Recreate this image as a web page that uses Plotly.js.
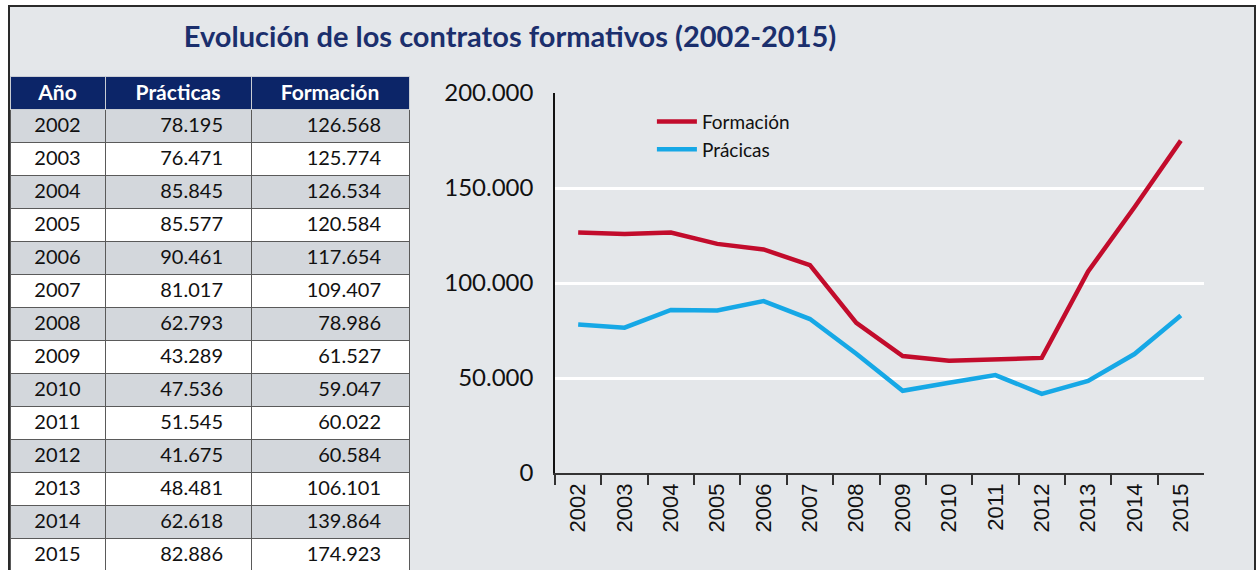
<!DOCTYPE html>
<html>
<head>
<meta charset="utf-8">
<script src="https://cdn.plot.ly/plotly-3.0.1.min.js"></script>
<style>
  body { margin: 0; background: #fff; }
  #wrap { position: absolute; left: 8px; top: 5px; width: 1244px; height: 600px;
          border: 2px solid #2a2a2a; background: #e4e7ea; overflow: hidden; }
  #chart { width: 1244px; height: 563px; }
</style>
</head>
<body>
<div id="wrap"><div id="chart"></div></div>
<script>
// data
var years = ['2002', '2003', '2004', '2005', '2006', '2007', '2008',
             '2009', '2010', '2011', '2012', '2013', '2014', '2015'];
var practicas = [78195, 76471, 85845, 85577, 90461, 81017, 62793,
                 43289, 47536, 51545, 41675, 48481, 62618, 82886];
var formacion = [126568, 125774, 126534, 120584, 117654, 109407, 78986,
                 61527, 59047, 60022, 60584, 106101, 139864, 174923];
var headers = ['Año', 'Prácticas', 'Formación'];

var red = '#c20c2c';
var blue = '#16a8e6';
var navy = '#0c2568';

function fmt(n) {
    return String(n).replace(/\B(?=(\d{3})+(?!\d))/g, '.');
}

var rowFill = years.map(function(y, i) { return i % 2 === 0 ? '#d3d7dc' : '#ffffff'; });

var table = {
    type: 'table',
    domain: { x: [0, 399 / 1244], y: [0, 1 - 69 / 563] },
    columnwidth: [95, 146, 158],
    header: {
        values: headers,
        align: 'center',
        height: 33,
        fill: { color: navy },
        line: { color: '#c8ccd4', width: 1 },
        font: { family: 'Lato', size: 21, color: '#ffffff', weight: 'bold' }
    },
    cells: {
        values: [years, practicas.map(fmt), formacion.map(fmt)],
        suffix: ['', '\u2002\u2002', '\u2002\u2002'],
        align: ['center', 'right', 'right'],
        height: 33,
        fill: { color: [rowFill, rowFill, rowFill] },
        line: { color: '#5a5a5a', width: 1 },
        font: { family: 'Lato', size: 20, color: '#111111' }
    }
};

var traceF = {
    x: years, y: formacion, mode: 'lines', name: 'Formación',
    line: { color: red, width: 4.5 },
    hoverinfo: 'x+y'
};
var traceP = {
    x: years, y: practicas, mode: 'lines', name: 'Prácicas',
    line: { color: blue, width: 4.5 },
    hoverinfo: 'x+y'
};

var layout = {
    width: 1244,
    height: 563,
    margin: { l: 0, r: 0, t: 0, b: 0 },
    paper_bgcolor: '#e4e7ea',
    plot_bgcolor: '#e4e7ea',
    separators: ',.',
    title: {
        text: 'Evolución de los contratos formativos (2002-2015)',
        font: { family: 'Lato', size: 29, color: '#1b2f6d', weight: 'bold' },
        x: 0.402, xanchor: 'center', xref: 'paper',
        y: 1 - 30 / 563, yanchor: 'middle', yref: 'container'
    },
    xaxis: {
        domain: [545 / 1244, 1194 / 1244],
        type: 'category',
        range: [-0.5, 13.5],
        tickson: 'boundaries',
        ticks: 'outside', ticklen: 10, tickwidth: 1.5, tickcolor: '#333',
        tickangle: -90,
        tickfont: { family: 'Liberation Sans', size: 22, color: '#111' },
        showline: true, linecolor: '#333', linewidth: 1.5,
        showgrid: false,
        anchor: 'y'
    },
    xaxis2: {
        overlaying: 'x', anchor: 'y',
        range: [-0.5, 13.5], tick0: -0.5, dtick: 1,
        ticks: 'inside', ticklen: 9, tickwidth: 1.5, tickcolor: '#333',
        showticklabels: false, showgrid: false, zeroline: false, showline: false
    },
    yaxis: {
        domain: [97 / 563, 477 / 563],
        range: [0, 200000],
        dtick: 50000,
        tickformat: ',d',
        ticks: '',
        ticklabelstandoff: 15,
        tickfont: { family: 'Lato', size: 24, color: '#111' },
        showline: true, linecolor: '#111', linewidth: 1.5,
        showgrid: true, gridcolor: '#ffffff', gridwidth: 2.5,
        zeroline: false
    },
    showlegend: true,
    legend: {
        x: 0.516, y: 0.83, xanchor: 'left', yanchor: 'top',
        bgcolor: 'rgba(0,0,0,0)',
        itemwidth: 40,
        font: { family: 'Lato', size: 19, color: '#111' },
        tracegroupgap: 0
    }
};

Plotly.newPlot('chart', [table, traceF, traceP], layout, { displayModeBar: false });
</script>
</body>
</html>
